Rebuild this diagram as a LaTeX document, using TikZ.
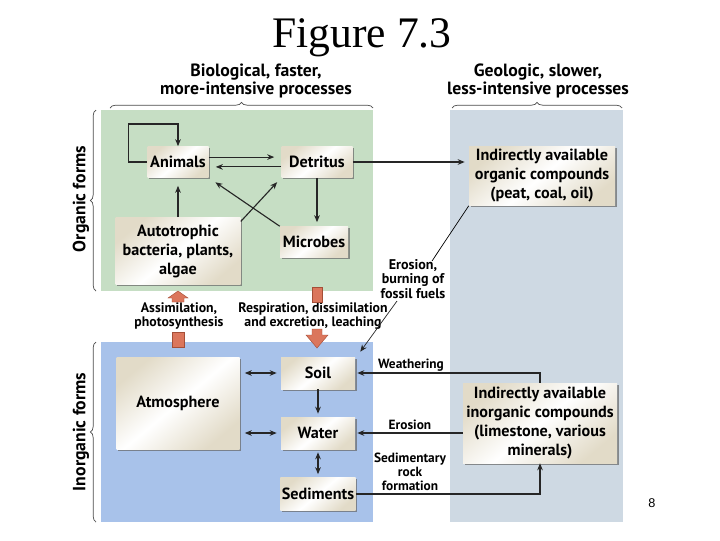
\documentclass[tikz,border=0pt]{standalone}
\usepackage{fontspec}
\setmainfont{Liberation Serif}
\newfontfamily\figfont{PT Sans}
\newfontfamily\pagefont{Liberation Sans}
\usetikzlibrary{arrows.meta,calc,shadows,decorations.pathreplacing}
\newlength\px \setlength\px{0.025cm}
\definecolor{orgbg}{RGB}{198,222,196}
\definecolor{inorgbg}{RGB}{168,194,234}
\definecolor{geobg}{RGB}{206,217,227}
\definecolor{boxedge}{RGB}{226,219,200}
\definecolor{flow}{RGB}{219,118,92}
\definecolor{flowdark}{RGB}{165,78,55}
\tikzset{
  cbox/.style={inner sep=1pt, align=center, font=\figfont\bfseries\fontsize{11.5}{13.5}\selectfont,
    left color=boxedge, right color=boxedge, middle color=white, shading angle=40,
    drop shadow={shadow xshift=1.2pt, shadow yshift=-1.2pt, fill=black!60, opacity=.7}},
  lbl/.style={align=center, inner sep=0pt, font=\figfont\bfseries\fontsize{10}{10.4}\selectfont},
  head/.style={align=center, inner sep=0pt, font=\figfont\bfseries\fontsize{12.6}{12.8}\selectfont},
  arr/.style={line width=0.8pt, draw=black!85, -{Stealth[length=5pt,width=4pt]}},
  darr/.style={line width=0.8pt, draw=black!85, {Stealth[length=5pt,width=4pt]}-{Stealth[length=5pt,width=4pt]}},
  brc/.style={draw=black!70, line width=0.5pt, decorate, decoration={brace, amplitude=4pt}},
  flowarr/.style={fill=flow, draw=flowdark, line width=0.3pt},
}

\begin{document}
\begin{tikzpicture}[x=0.025cm, y=-0.025cm]
  %%%%% START %%%%%
  \useasboundingbox[fill=white] (0,0) rectangle (720,540);
  \node[font=\fontsize{31}{31}\selectfont] (title) at (362,38) {Figure 7.3};

  % background panels
  \fill[orgbg] (101,110) rectangle (373,291);
  \fill[inorgbg] (101,342) rectangle (373,522);
  \fill[geobg] (450,110) rectangle (623,522);

  % braces and their headings
  \draw[brc] (110,108) -- (373,108);
  \draw[brc] (452,108) -- (622,108);
  \draw[brc] (96,291) -- (96,110);
  \draw[brc] (96,522) -- (96,342);
  \node[head] (bio) at (256,81) {Biological, faster,\\more-intensive processes};
  \node[head] (geol) at (538,81) {Geologic, slower,\\less-intensive processes};
  \node[head, rotate=90] (orgf) at (81,199) {Organic forms};
  \node[head, rotate=90] (inorgf) at (81,432) {Inorganic forms};

  % organic boxes
  \node[cbox, minimum width=61\px, minimum height=31\px] (anim) at (178,162) {Animals};
  \node[cbox, minimum width=71\px, minimum height=31\px] (detr) at (317,162) {Detritus};
  \node[cbox, minimum width=125\px, minimum height=67\px] (auto) at (178,251) {Autotrophic\\bacteria, plants,\\algae};
  \node[cbox, minimum width=68\px, minimum height=31\px] (micr) at (314,242) {Microbes};
  \node[cbox, minimum width=146\px, minimum height=59\px] (orgc) at (542,176) {Indirectly available\\organic compounds\\(peat, coal, oil)};

  % inorganic boxes
  \node[cbox, minimum width=123\px, minimum height=92\px] (atm) at (178,403) {Atmosphere};
  \node[cbox, minimum width=74\px, minimum height=32\px] (soil) at (318,373) {Soil};
  \node[cbox, minimum width=74\px, minimum height=32\px] (wat) at (318,433) {Water};
  \node[cbox, minimum width=74\px, minimum height=33\px] (sed) at (318,494) {Sediments};
  \node[cbox, minimum width=154\px, minimum height=80\px] (inorg) at (540,423) {Indirectly available\\inorganic compounds\\(limestone, various\\minerals)};

  % flow labels
  \node[lbl, font=\figfont\bfseries\fontsize{9.8}{10}\selectfont] (assim) at (179,316) {Assimilation,\\photosynthesis};
  \node[lbl, font=\figfont\bfseries\fontsize{9.8}{10}\selectfont] (resp) at (313,316) {Respiration, dissimilation\\and excretion, leaching};
  \node[lbl] (ero) at (413,279) {Erosion,\\burning of\\fossil fuels};
  \node[lbl, font=\figfont\bfseries\fontsize{9.5}{10}\selectfont] (wea) at (411,365) {Weathering};
  \node[lbl, font=\figfont\bfseries\fontsize{9.5}{10}\selectfont] (ers) at (410,425) {Erosion};
  \node[lbl, font=\figfont\bfseries\fontsize{9.5}{10}\selectfont] (sedf) at (410,472) {Sedimentary\\rock\\formation};
  \node[font=\pagefont\fontsize{9}{9}\selectfont] (pg) at (652,503) {8};

  % big orange arrows
  \filldraw[flowarr] (172,302) -- (172,298) -- (168,298) -- (178,291) -- (188,298) -- (184,298) -- (184,302) -- cycle;
  \filldraw[flowarr] (172,332) rectangle (184,347);
  \filldraw[flowarr] (312,287) rectangle (322,302);
  \filldraw[flowarr] (312,329) -- (312,335) -- (306,335) -- (317,348) -- (328,335) -- (322,335) -- (322,329) -- cycle;

  % organic connectors
  \draw[arr] (anim.west) -| ++(-19,-38) -| (anim.north);
  \draw[arr, shorten >=7\px] ([yshift=3.5pt]anim.east) -- ([yshift=3.5pt]detr.west);
  \draw[arr, shorten >=7\px] ([yshift=-3.5pt]detr.west) -- ([yshift=-3.5pt]anim.east);
  \draw[arr, shorten >=8\px] (auto.north) -- (anim.south);
  \draw[arr, shorten >=6\px] ([yshift=-3pt]auto.north east) -- (detr.south west);
  \draw[arr, shorten >=8\px] (micr.north west) -- (anim.south east);
  \draw[arr, shorten >=4\px] (detr.south) -- (detr.south |- micr.north);
  \draw[arr, shorten >=4\px] (detr.east) -- (detr.east -| orgc.west);

  % erosion and burning of fossil fuels
  \draw[line width=0.5pt] (orgc.south west) -- ($(ero.north)+(19,2)$);
  \draw[arr, line width=0.5pt] ($(ero.south)+(-16,2)$) -- ($(soil.north east)+(5,-5)$);

  % inorganic connectors
  \draw[darr, shorten <=5\px, shorten >=4\px] (atm.east |- soil.west) -- (soil.west);
  \draw[darr, shorten <=5\px, shorten >=4\px] (atm.east |- wat.west) -- (wat.west);
  \draw[arr, shorten >=3\px] (soil.south) -- (wat.north);
  \draw[darr, shorten <=3\px, shorten >=3\px] (wat.south) -- (sed.north);
  \draw[arr, shorten >=2\px] (inorg.north) |- (soil.east);
  \draw[arr, shorten >=2\px] (inorg.west |- wat.east) -- (wat.east);
  \draw[arr] (sed.east) -| (inorg.south);
  %%%%% END %%%%%
\end{tikzpicture}
\end{document}
